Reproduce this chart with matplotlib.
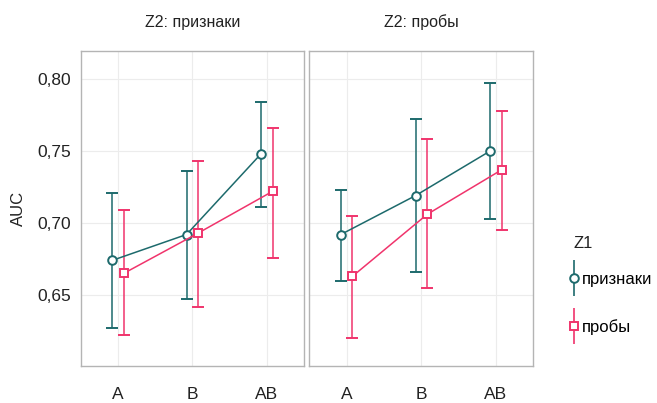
import numpy as np
import matplotlib.pyplot as plt
from matplotlib.lines import Line2D
from matplotlib.legend_handler import HandlerTuple

plt.rcParams['font.family'] = ['Liberation Sans', 'DejaVu Sans']

# data
groups = ['A', 'B', 'AB']
panels = ['Z2: признаки', 'Z2: пробы']
series = ['признаки', 'пробы']

# mean AUC, lower bound, upper bound per panel / series
mean_priz = [[0.674, 0.692, 0.748], [0.692, 0.719, 0.750]]
low_priz = [[0.627, 0.647, 0.711], [0.660, 0.666, 0.703]]
high_priz = [[0.721, 0.736, 0.784], [0.723, 0.772, 0.797]]

mean_prob = [[0.665, 0.693, 0.722], [0.663, 0.706, 0.737]]
low_prob = [[0.622, 0.642, 0.676], [0.620, 0.655, 0.695]]
high_prob = [[0.709, 0.743, 0.766], [0.705, 0.758, 0.778]]

teal = '#1d6a6c'
pink = '#f0346c'

fig = plt.figure(figsize=(6.57, 4.03), dpi=100)
ax1 = fig.add_axes([0.1228, 0.0918, 0.340, 0.7816])
ax2 = fig.add_axes([0.4708, 0.0918, 0.341, 0.7816])
axes = [ax1, ax2]

x = np.arange(len(groups))
dodge = 0.078

for i, ax in enumerate(axes):
    for mean, low, high, col, mk, off in [
        (mean_priz[i], low_priz[i], high_priz[i], teal, 'o', -dodge),
        (mean_prob[i], low_prob[i], high_prob[i], pink, 's', dodge),
    ]:
        m = np.array(mean)
        yerr = [m - np.array(low), np.array(high) - m]
        ax.errorbar(x + off, m, yerr=yerr, color=col, marker=mk, ms=6.2,
                    mfc='white', mec=col, mew=1.4, lw=1.1, elinewidth=1.1,
                    capsize=4.5, capthick=1.1, zorder=3)

    ax.set_xlim(-0.5, 2.5)
    ax.set_ylim(0.6007, 0.8194)
    ax.set_xticks(x)
    ax.set_xticklabels(groups, fontsize=12.5, color='#222222')
    ax.set_yticks([0.65, 0.70, 0.75, 0.80])
    ax.grid(True, color='#ececec', lw=0.8, zorder=0)
    ax.tick_params(length=0, pad=15, axis='x')
    ax.tick_params(length=0, pad=7, axis='y')
    for s in ax.spines.values():
        s.set_color('#b4b4b4')
        s.set_linewidth(1.0)
    ax.set_title(panels[i], fontsize=11.5, pad=17, color='#222222')

ax1.set_yticklabels(['0,65', '0,70', '0,75', '0,80'], fontsize=12.5, color='#222222')
ax2.set_yticklabels([])
ax1.set_ylabel('AUC', fontsize=12, labelpad=8, color='#222222')

# legend: title as separate text, entries below
fig.text(0.873, 0.397, 'Z1', fontsize=12, color='#222222', va='center', ha='left')
h1 = (Line2D([], [], color=teal, marker='|', ms=26, mew=1.2, ls='none'),
      Line2D([], [], color=teal, marker='o', ms=6.2, mfc='white', mew=1.4, ls='none'))
h2 = (Line2D([], [], color=pink, marker='|', ms=26, mew=1.2, ls='none'),
      Line2D([], [], color=pink, marker='s', ms=6.2, mfc='white', mew=1.4, ls='none'))
leg = fig.legend([h1, h2], series, handler_map={tuple: HandlerTuple(ndivide=1)},
                 loc='upper left', bbox_to_anchor=(0.845, 0.362), frameon=False,
                 fontsize=12, handlelength=0.5,
                 handletextpad=0.2, labelspacing=1.9)

fig.savefig('out.png', dpi=100)
